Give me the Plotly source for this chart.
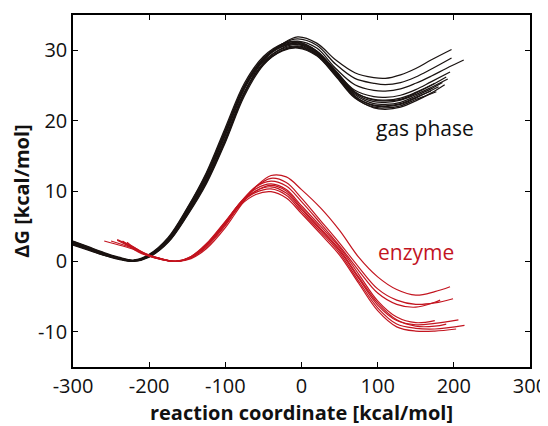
import plotly.graph_objects as go

# ---------------- data ----------------
X_TICKS = [-300, -200, -100, 0, 100, 200, 300]
X_TICK_LABELS = ["-300", "-200", "-100", "0", "100", "200", "300"]
Y_TICKS = [-10, 0, 10, 20, 30]
Y_TICK_LABELS = ["-10", "0", "10", "20", "30"]

# gas phase: shared x positions for the first part of every trajectory
GAS_X_COMMON = [-300, -280, -260, -240, -220, -200, -175, -150, -125, -100,
                -75, -50, -25, -5, 20, 45, 70, 95, 110, 130, 150]

gas_tail_x = [
    [170, 197],
    [170, 197],
    [170, 190, 213],
    [170, 195],
    [170, 190],
    [170, 192],
    [170, 185],
    [165, 180],
    [165, 177],
    [170, 188],
    [175],
    [170],
]

gas_y = [
    [2.4, 1.7, 1.0, 0.4, 0.1, 0.7, 2.9, 6.8, 11.4, 17.4, 24.0, 28.6, 30.9, 31.9, 31.0, 28.6, 26.8, 26.1, 26.0, 26.5, 27.4, 28.6, 30.1],
    [2.7, 1.9, 1.1, 0.5, 0.1, 0.8, 3.1, 7.1, 11.8, 17.9, 24.5, 28.7, 30.9, 31.6, 30.7, 28.0, 26.0, 25.3, 25.1, 25.4, 26.2, 27.3, 28.9],
    [2.5, 1.8, 1.0, 0.4, 0.1, 0.9, 3.2, 7.3, 12.1, 18.3, 24.8, 28.8, 30.8, 31.3, 30.3, 27.4, 25.1, 24.3, 24.2, 24.5, 25.3, 26.3, 27.4, 28.6],
    [2.8, 2.0, 1.2, 0.5, 0.1, 0.9, 3.3, 7.5, 12.4, 18.7, 25.0, 28.8, 30.6, 31.0, 29.8, 27.0, 24.3, 23.4, 23.3, 23.6, 24.4, 25.5, 26.9],
    [2.6, 1.8, 1.0, 0.4, 0.0, 0.7, 2.8, 6.7, 11.3, 17.2, 23.9, 28.2, 30.3, 30.8, 29.6, 26.8, 24.0, 23.0, 22.9, 23.2, 24.0, 25.0, 26.2],
    [2.9, 2.1, 1.3, 0.6, 0.2, 1.0, 3.4, 7.6, 12.6, 19.0, 25.3, 29.1, 30.9, 31.2, 29.9, 26.9, 23.9, 22.7, 22.6, 22.9, 23.7, 24.7, 25.9],
    [2.3, 1.6, 0.9, 0.3, 0.0, 0.6, 2.7, 6.5, 11.0, 16.9, 23.5, 27.9, 30.0, 30.5, 29.4, 26.6, 23.7, 22.4, 22.3, 22.6, 23.5, 24.5, 25.4],
    [2.7, 1.9, 1.1, 0.5, 0.1, 0.8, 3.0, 7.0, 11.8, 18.0, 24.6, 28.6, 30.5, 30.9, 29.7, 26.7, 23.5, 22.1, 22.0, 22.3, 23.2, 24.0, 24.8],
    [2.5, 1.7, 0.9, 0.4, 0.1, 0.7, 2.9, 6.9, 11.5, 17.5, 24.1, 28.0, 29.9, 30.3, 29.2, 26.3, 23.2, 21.9, 21.8, 22.1, 23.0, 23.6, 24.1],
    [2.6, 1.9, 1.1, 0.4, 0.1, 0.8, 3.1, 7.2, 12.0, 18.2, 24.7, 28.4, 30.2, 30.6, 29.5, 26.5, 23.3, 21.8, 21.6, 21.9, 22.8, 23.9, 25.1],
    [2.8, 2.0, 1.1, 0.5, 0.1, 0.9, 3.2, 7.4, 12.2, 18.5, 24.9, 28.9, 30.7, 31.1, 29.9, 27.1, 24.1, 22.9, 22.8, 23.0, 23.9, 25.3],
    [2.4, 1.7, 1.0, 0.4, 0.1, 0.7, 2.8, 6.6, 11.2, 17.1, 23.8, 28.1, 30.0, 30.4, 29.3, 26.4, 23.4, 22.2, 22.1, 22.4, 23.3, 24.2],
]

# enzyme: shared interior x positions, per-trajectory start and end
ENZ_X_COMMON = [-220, -205, -185, -165, -145, -125, -100, -80, -60, -40,
                -20, 0, 25, 50, 75, 100, 125, 150, 175]
enz_start_x = [-229, -242, -235, -259, -242, -229, -235, -250]
enz_end_x = [195, 199, 182, 175, 206, 214, 203, 190]

enz_y = [
    [2.7, 2.0, 1.1, 0.4, 0.0, 0.4, 1.8, 4.8, 7.9, 10.6, 12.2, 12.0, 10.2, 7.6, 4.4, 0.6, -2.2, -4.0, -4.8, -4.3, -3.6],
    [3.1, 2.0, 1.1, 0.4, 0.0, 0.5, 2.0, 5.1, 8.2, 10.6, 11.8, 11.2, 9.0, 5.8, 2.6, -0.8, -3.9, -5.5, -6.1, -5.9, -5.3],
    [2.9, 1.9, 1.0, 0.4, 0.0, 0.6, 2.2, 5.4, 8.4, 10.6, 11.4, 10.7, 8.5, 5.4, 2.2, -1.3, -4.5, -6.1, -6.5, -5.8, -5.5],
    [2.9, 1.7, 1.0, 0.35, 0.0, 0.6, 2.3, 5.5, 8.4, 10.3, 11.0, 10.2, 7.9, 5.0, 2.0, -1.8, -5.6, -7.9, -8.7, -8.4, -8.4],
    [3.0, 1.8, 1.0, 0.3, 0.0, 0.7, 2.4, 5.6, 8.3, 10.0, 10.6, 9.7, 7.4, 4.5, 1.5, -2.4, -6.2, -8.4, -9.0, -8.8, -8.3],
    [2.7, 1.7, 0.9, 0.3, 0.0, 0.7, 2.5, 5.7, 8.3, 9.8, 10.3, 9.4, 7.1, 4.2, 1.2, -2.8, -6.6, -8.9, -9.5, -9.6, -9.1],
    [2.8, 1.8, 1.0, 0.35, 0.0, 0.6, 2.3, 5.4, 8.0, 9.5, 9.9, 9.0, 6.8, 3.9, 0.9, -3.1, -7.0, -9.3, -9.9, -9.9, -9.6],
    [2.9, 1.8, 1.0, 0.3, 0.0, 0.6, 2.2, 5.2, 8.1, 10.0, 10.8, 10.0, 7.6, 4.7, 1.7, -2.2, -5.9, -8.3, -9.2, -9.2, -8.9],
]

GAS_COLOR = "#1a1311"
ENZ_COLOR = "#c3141f"
FONT = "Open Sans"

# ---------------- figure ----------------
fig = go.Figure()

for tail, ys in zip(gas_tail_x, gas_y):
    xs = GAS_X_COMMON + tail
    fig.add_trace(go.Scatter(x=xs, y=ys, mode="lines",
                             line=dict(color=GAS_COLOR, width=1.25, shape="spline", smoothing=1.0),
                             hoverinfo="skip"))

for x0, x1, ys in zip(enz_start_x, enz_end_x, enz_y):
    xs = [x0] + ENZ_X_COMMON + [x1]
    fig.add_trace(go.Scatter(x=xs, y=ys, mode="lines",
                             line=dict(color=ENZ_COLOR, width=1.2, shape="spline", smoothing=1.0),
                             hoverinfo="skip"))

fig.add_annotation(x=162, y=18.9, text="gas phase", showarrow=False,
                   font=dict(family=FONT, size=21, color="#111111"))
fig.add_annotation(x=150, y=1.4, text="enzyme", showarrow=False,
                   font=dict(family=FONT, size=21, color=ENZ_COLOR))

axis_common = dict(showline=True, linecolor="black", linewidth=1.5, mirror="ticks",
                   ticks="inside", ticklen=5, tickwidth=1.3, tickcolor="black",
                   showgrid=False, zeroline=False, automargin=False,
                   tickfont=dict(family=FONT, size=20, color="#111111"))

# the page body adds an 8 px offset, so the figure is sized to land the
# plot box where the reference has it inside the 548x426 window
fig.update_layout(
    width=540, height=418,
    margin=dict(l=65, r=18, t=7, b=59),
    plot_bgcolor="white", paper_bgcolor="white",
    showlegend=False,
    xaxis=dict(range=[-300, 300], tickvals=X_TICKS, ticktext=X_TICK_LABELS,
               title=dict(text="reaction coordinate [kcal/mol]", standoff=4,
                          font=dict(family=FONT, size=20, color="#111111", weight="bold")),
               **axis_common),
    yaxis=dict(range=[-15, 35], tickvals=Y_TICKS, ticktext=Y_TICK_LABELS,
               title=dict(text="ΔG [kcal/mol]", standoff=4,
                          font=dict(family=FONT, size=20, color="#111111", weight="bold")),
               **axis_common),
)

fig.write_html("out.html")
